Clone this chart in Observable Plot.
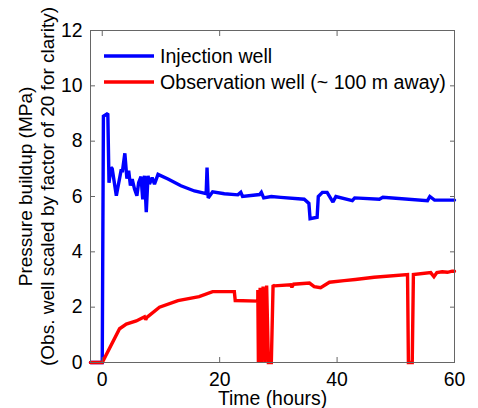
<!DOCTYPE html>
<html><head><meta charset="utf-8">
<script src="https://cdn.jsdelivr.net/npm/d3@7"></script>
<script src="https://cdn.jsdelivr.net/npm/@observablehq/plot@0.6"></script>
<style>body{margin:0;background:#fff}#chart{width:478px;height:408px}</style>
</head><body><div id="chart"></div>
<script>
const injectionTime = [-2,0,0.2,0.95,1.15,1.5,1.7,2.4,3.2,3.45,3.85,4.2,4.5,4.8,5.1,5.5,5.9,6.2,6.6,6.9,7.2,7.5,7.8,8.05,8.5,8.9,9.5,11.2,13.4,15.7,17.7,17.85,18.05,18.8,20.8,23.1,23.6,23.9,26.8,27.1,27.5,28.8,30.4,34.4,35.2,35.4,36.6,36.8,37.5,38.3,39.3,39.8,42.6,43.0,47.2,47.8,55.4,55.8,56.6,60];
const injectionPressure = [0,0,8.9,9.0,6.5,7.05,7.0,6.03,6.93,6.93,7.56,6.65,6.93,6.4,6.63,6.27,6.03,6.5,6.72,5.9,6.75,5.43,6.75,6.45,6.68,6.45,6.8,6.63,6.39,6.2,6.1,7.05,5.95,6.17,6.1,6.06,6.15,6.0,6.07,6.15,5.95,6.0,5.97,5.9,5.75,5.2,5.25,6.0,6.15,6.15,5.8,6.0,5.85,5.95,5.9,5.97,5.85,6.0,5.87,5.87];
const observationTime = [-2,0,2.95,4.1,5.8,7.2,7.4,7.6,9.75,12.9,16.5,18.8,22.5,22.65,26.5,26.5,26.6,26.9,27.1,27.4,27.7,28.0,28.3,28.8,29.1,29.3,32.1,32.3,32.6,35.3,36.1,37.2,38.7,41.2,43.1,46.3,52.0,52.15,52.8,53.0,55.95,56.5,57.0,57.9,58.8,59.6,60];
const observationPressure = [0,0,1.22,1.39,1.5,1.65,1.55,1.63,2.0,2.24,2.38,2.56,2.56,2.24,2.22,2.62,0,2.7,0,2.75,0,2.78,0,0,2.8,2.77,2.81,2.72,2.83,2.87,2.74,2.7,2.9,2.96,3.0,3.08,3.18,0,0,3.18,3.25,3.1,3.25,3.28,3.26,3.3,3.3];
const xTicks = [0,20,40,60];
const yTicks = [0,2,4,6,8,10,12];
const seriesNames = ["Injection well","Observation well (~ 100 m away)"];
const seriesColors = ["#0000ff","#ff0000"];
const xLabel = "Time (hours)";
const yLabel = "Pressure buildup (MPa)\n(Obs. well scaled by factor of 20 for clarity)";

const inj = injectionTime.map((t,i)=>({t, p: injectionPressure[i]}));
const obs = observationTime.map((t,i)=>({t, p: observationPressure[i]}));
const font = "'Liberation Sans', Arial, Helvetica, sans-serif";

const svg = Plot.plot({
  width: 478, height: 408,
  marginLeft: 90, marginRight: 24, marginTop: 30, marginBottom: 46,
  style: {fontFamily: font, fontSize: "19px", color: "#000", background: "#fff", overflow: "visible"},
  x: {domain: [-2, 60]},
  y: {domain: [0, 12]},
  marks: [
    Plot.line(inj, {x: "t", y: "p", stroke: seriesColors[0], strokeWidth: 3.4, strokeLinejoin: "miter", strokeMiterlimit: 2}),
    Plot.line(obs, {x: "t", y: "p", stroke: seriesColors[1], strokeWidth: 3.4, strokeLinejoin: "miter", strokeMiterlimit: 2}),
    Plot.frame({stroke: "#666"}),
    Plot.axisX(xTicks, {anchor: "bottom", tickSize: -5, stroke: "#666", fill: "none", label: null}),
    Plot.axisX(xTicks, {anchor: "top", tickSize: -5, stroke: "#666", fill: "none", label: null}),
    Plot.axisY(yTicks, {anchor: "left", tickSize: -5, stroke: "#666", fill: "none", label: null}),
    Plot.axisY(yTicks, {anchor: "right", tickSize: -5, stroke: "#666", fill: "none", label: null}),
    Plot.axisX(xTicks, {anchor: "bottom", tickSize: -5, stroke: "none", fill: "#000", tickPadding: 15, fontSize: 19.4, label: null}),
    Plot.axisY(yTicks, {anchor: "left", tickSize: -5, stroke: "none", fill: "#000", tickPadding: 13, fontSize: 19.4, label: null}),
    Plot.text([xLabel], {frameAnchor: "bottom", textAnchor: "middle", dy: 29, lineAnchor: "top", fontSize: 19.4, fill: "#000"}),
    Plot.text([yLabel], {frameAnchor: "left", textAnchor: "middle", rotate: -90, dx: -74, dy: -10, lineAnchor: "top", lineHeight: 1.16, fontSize: 19, fill: "#000"})
  ]
});

// legend inside plot area (top-left)
const lg = d3.select(svg).append("g").attr("font-family", font).attr("font-size", 19.6).attr("text-anchor", "start");
const legendY = [56, 82];
seriesNames.forEach((name, i) => {
  lg.append("line").attr("x1", 104).attr("x2", 154).attr("y1", legendY[i]).attr("y2", legendY[i])
    .attr("stroke", seriesColors[i]).attr("stroke-width", 3.4);
  lg.append("text").attr("x", 160).attr("y", legendY[i]).attr("dy", "0.35em").attr("fill", "#000").text(name);
});

document.getElementById("chart").appendChild(svg);
</script>
</body></html>
